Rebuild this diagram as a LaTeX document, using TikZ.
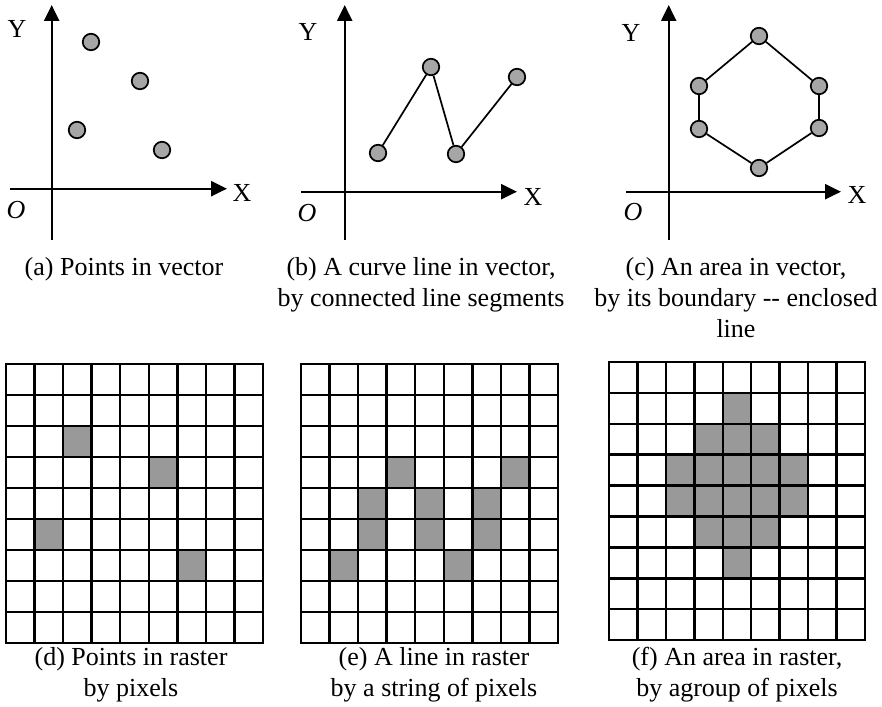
\documentclass[tikz,border=0pt]{standalone}
\usepackage{fontspec}
\setmainfont{Liberation Serif}
\usetikzlibrary{arrows.meta}
\definecolor{ptgray}{RGB}{166,166,166}
\definecolor{cellgray}{RGB}{153,153,153}
\begin{document}
\begin{tikzpicture}[x=1pt,y=-1pt,
  axis/.style={line width=2.3pt,-{Triangle[length=16pt,width=15pt]}},
  pt/.style={circle,draw=black,line width=1.7pt,fill=ptgray,minimum size=16.5pt,inner sep=0pt},
  seg/.style={line width=1.7pt},
  lbl/.style={font=\fontsize{26}{31}\selectfont,inner sep=0pt},
  captext/.style={font=\fontsize{26}{31}\selectfont,align=center,inner sep=0pt,anchor=base},
  cell/.style={fill=cellgray,draw=none},
  gridline/.style={line width=2.5pt,line cap=rect}]
\useasboundingbox[fill=white] (0,0) rectangle (882,706);

% ---------- (a) ----------
\coordinate (ax0) at (10,188.7); \coordinate (ax1) at (227,188.7);
\coordinate (ay0) at (51.7,240); \coordinate (ay1) at (51.7,5);
\draw[axis] (ax0) -- (ax1);
\draw[axis] (ay0) -- (ay1);
\node[lbl] (aY) at (17,29) {Y};
\node[lbl] (aX) at (242,193) {X};
\node[lbl] (aO) at (16,210) {\textit{O}};
\node[pt] (a1) at (91,42) {};
\node[pt] (a2) at (140,81) {};
\node[pt] (a3) at (77,130) {};
\node[pt] (a4) at (162,150) {};
\node[captext] (capa) at (124,275) {(a) Points in vector};

% ---------- (b) ----------
\coordinate (bx0) at (301,191.7); \coordinate (bx1) at (517,191.7);
\coordinate (by0) at (344.7,240); \coordinate (by1) at (344.7,5);
\draw[axis] (bx0) -- (bx1);
\draw[axis] (by0) -- (by1);
\node[lbl] (bY) at (308,32) {Y};
\node[lbl] (bX) at (533,197) {X};
\node[lbl] (bO) at (307,213) {\textit{O}};
\node[pt] (b1) at (378,153) {};
\node[pt] (b2) at (431,67) {};
\node[pt] (b3) at (456,154) {};
\node[pt] (b4) at (517,77) {};
\draw[seg] (b1) -- (b2) -- (b3) -- (b4);
\node[captext] (capb) at (421,306) {(b) A curve line in vector,\\ by connected line segments};

% ---------- (c) ----------
\coordinate (cx0) at (626,191.7); \coordinate (cx1) at (841,191.7);
\coordinate (cy0) at (668.7,240); \coordinate (cy1) at (668.7,5);
\draw[axis] (cx0) -- (cx1);
\draw[axis] (cy0) -- (cy1);
\node[lbl] (cY) at (631,33) {Y};
\node[lbl] (cX) at (857,195) {X};
\node[lbl] (cO) at (633,212) {\textit{O}};
\node[pt] (ct) at (759,36) {};
\node[pt] (cur) at (819,86) {};
\node[pt] (clr) at (819,128) {};
\node[pt] (cb) at (759,168) {};
\node[pt] (cll) at (699,129) {};
\node[pt] (cul) at (699,86) {};
\draw[seg] (ct) -- (cur) -- (clr) -- (cb) -- (cll) -- (cul) -- (ct);
\node[captext] (capc) at (736,337) {(c) An area in vector,\\ by its boundary -{}- enclosed\\ line};

% ---------- (d) ----------
\begin{scope}[shift={(6,364)},x=28.56pt,y=-31pt]
  \foreach \c/\r in {2/2,5/3,1/5,6/6} \fill[cell] (\c,\r) rectangle (\c+1,\r+1);
  \foreach \i in {0,...,9} {\draw[gridline] (\i,0) -- (\i,9); \draw[gridline] (0,\i) -- (9,\i);}
\end{scope}
\node[captext] (capd) at (131,696) {(d) Points in raster\\ by pixels};

% ---------- (e) ----------
\begin{scope}[shift={(301,364)},x=28.56pt,y=-31pt]
  \foreach \c/\r in {3/3,7/3,2/4,4/4,6/4,2/5,4/5,6/5,1/6,5/6} \fill[cell] (\c,\r) rectangle (\c+1,\r+1);
  \foreach \i in {0,...,9} {\draw[gridline] (\i,0) -- (\i,9); \draw[gridline] (0,\i) -- (9,\i);}
\end{scope}
\node[captext] (cape) at (434,696) {(e) A line in raster\\ by a string of pixels};

% ---------- (f) ----------
\begin{scope}[shift={(609,362)},x=28.44pt,y=-30.9pt]
  \foreach \c/\r in {4/1,3/2,4/2,5/2,2/3,3/3,4/3,5/3,6/3,2/4,3/4,4/4,5/4,6/4,3/5,4/5,5/5,4/6} \fill[cell] (\c,\r) rectangle (\c+1,\r+1);
  \foreach \i in {0,...,9} {\draw[gridline] (\i,0) -- (\i,9); \draw[gridline] (0,\i) -- (9,\i);}
\end{scope}
\node[captext] (capf) at (737,696) {(f) An area in raster,\\ by agroup of pixels};
\end{tikzpicture}
\end{document}
